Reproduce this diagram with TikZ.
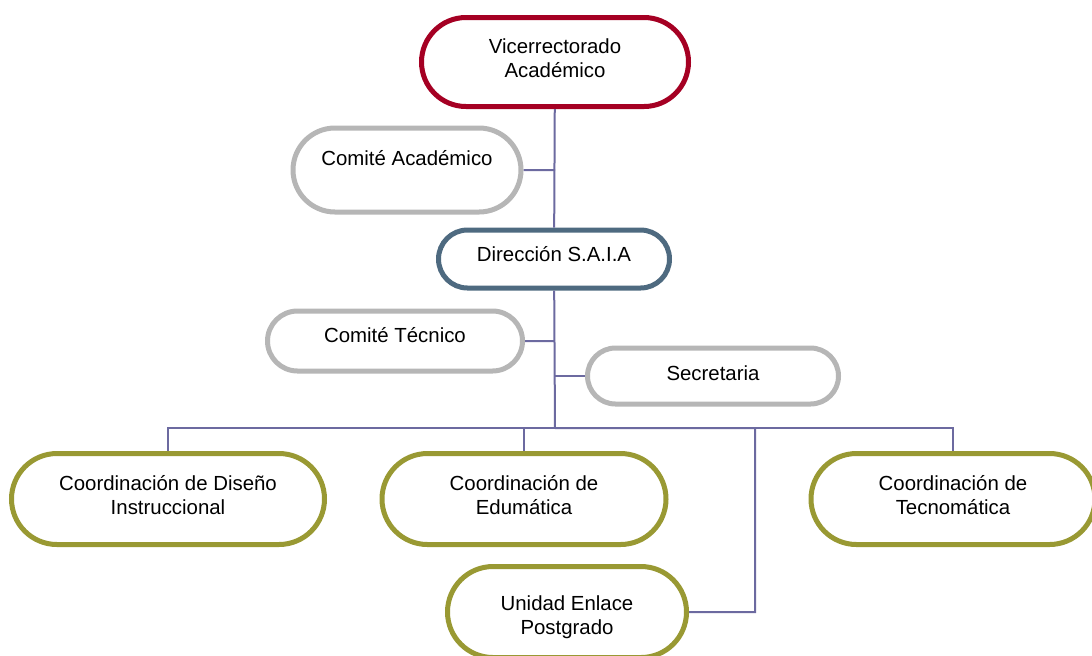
\documentclass[tikz,border=0pt]{standalone}
\usepackage{fontspec}
\setmainfont{Liberation Sans}
\usetikzlibrary{shapes.misc}
\definecolor{vrred}{RGB}{165,0,35}
\definecolor{cgray}{RGB}{182,182,182}
\definecolor{dslate}{RGB}{78,106,128}
\definecolor{colive}{RGB}{153,153,51}
\definecolor{lnk}{RGB}{108,106,160}
\tikzstyle{org}=[x=0.5pt, y=-0.5pt, font=\fontsize{10.2}{12}\selectfont]
\tikzstyle{box}=[rounded rectangle, line width=2.5pt, fill=white, align=center, inner sep=2pt]
\tikzstyle{top}=[box, draw=vrred]
\tikzstyle{com}=[box, draw=cgray]
\tikzstyle{dir}=[box, draw=dslate]
\tikzstyle{crd}=[box, draw=colive]
\tikzstyle{edge}=[-, draw=lnk, line width=1pt]

\begin{document}
\begin{tikzpicture}[org]
	\useasboundingbox (0,0) rectangle (1092,655);
	% boxes
	\draw (555,62) node[top, minimum width=137.5pt, minimum height=44.5pt, text depth=4pt] (vice) {Vicerrectorado\\Académico};
	\draw (407,170) node[com, minimum width=118pt, minimum height=42pt, text depth=12pt] (acad) {Comité Académico};
	\draw (554,259) node[dir, minimum width=119.5pt, minimum height=29pt, text depth=5pt] (saia) {Dirección S.A.I.A};
	\draw (395,341) node[com, minimum width=131.5pt, minimum height=30pt, text depth=6pt] (tecn) {Comité Técnico};
	\draw (713,376) node[com, minimum width=129.5pt, minimum height=28pt, text depth=3pt] (secr) {Secretaria};
	%
	\draw (168,499) node[crd, minimum width=160.5pt, minimum height=45.5pt, text depth=4.5pt] (dise) {Coordinación de Diseño\\Instruccional};
	\draw (524,499) node[crd, minimum width=146pt, minimum height=45.5pt, text depth=4.5pt] (edum) {Coordinación de\\Edumática};
	\draw (953,499) node[crd, minimum width=146pt, minimum height=45.5pt, text depth=4.5pt] (tecm) {Coordinación de\\Tecnomática};
	\draw (567,612) node[crd, minimum width=123.5pt, minimum height=45.5pt, text height=24.4pt] (enla) {Unidad Enlace\\Postgrado};
	%
	\coordinate (bus) at (555,428);
	\coordinate (bend) at (755,612);
	% links
	\draw[edge] (vice) -- (saia);
	\draw[edge] (acad) -- (acad -| vice);
	\draw[edge] (saia) -- (bus);
	\draw[edge] (tecn) -- (tecn -| saia);
	\draw[edge] (secr) -- (secr -| saia);
	\draw[edge] (bus) -| (dise);
	\draw[edge] (bus) -| (edum);
	\draw[edge] (bus) -| (tecm);
	\draw[edge] (bus) -| (bend) -- (enla);
\end{tikzpicture}
\end{document}
